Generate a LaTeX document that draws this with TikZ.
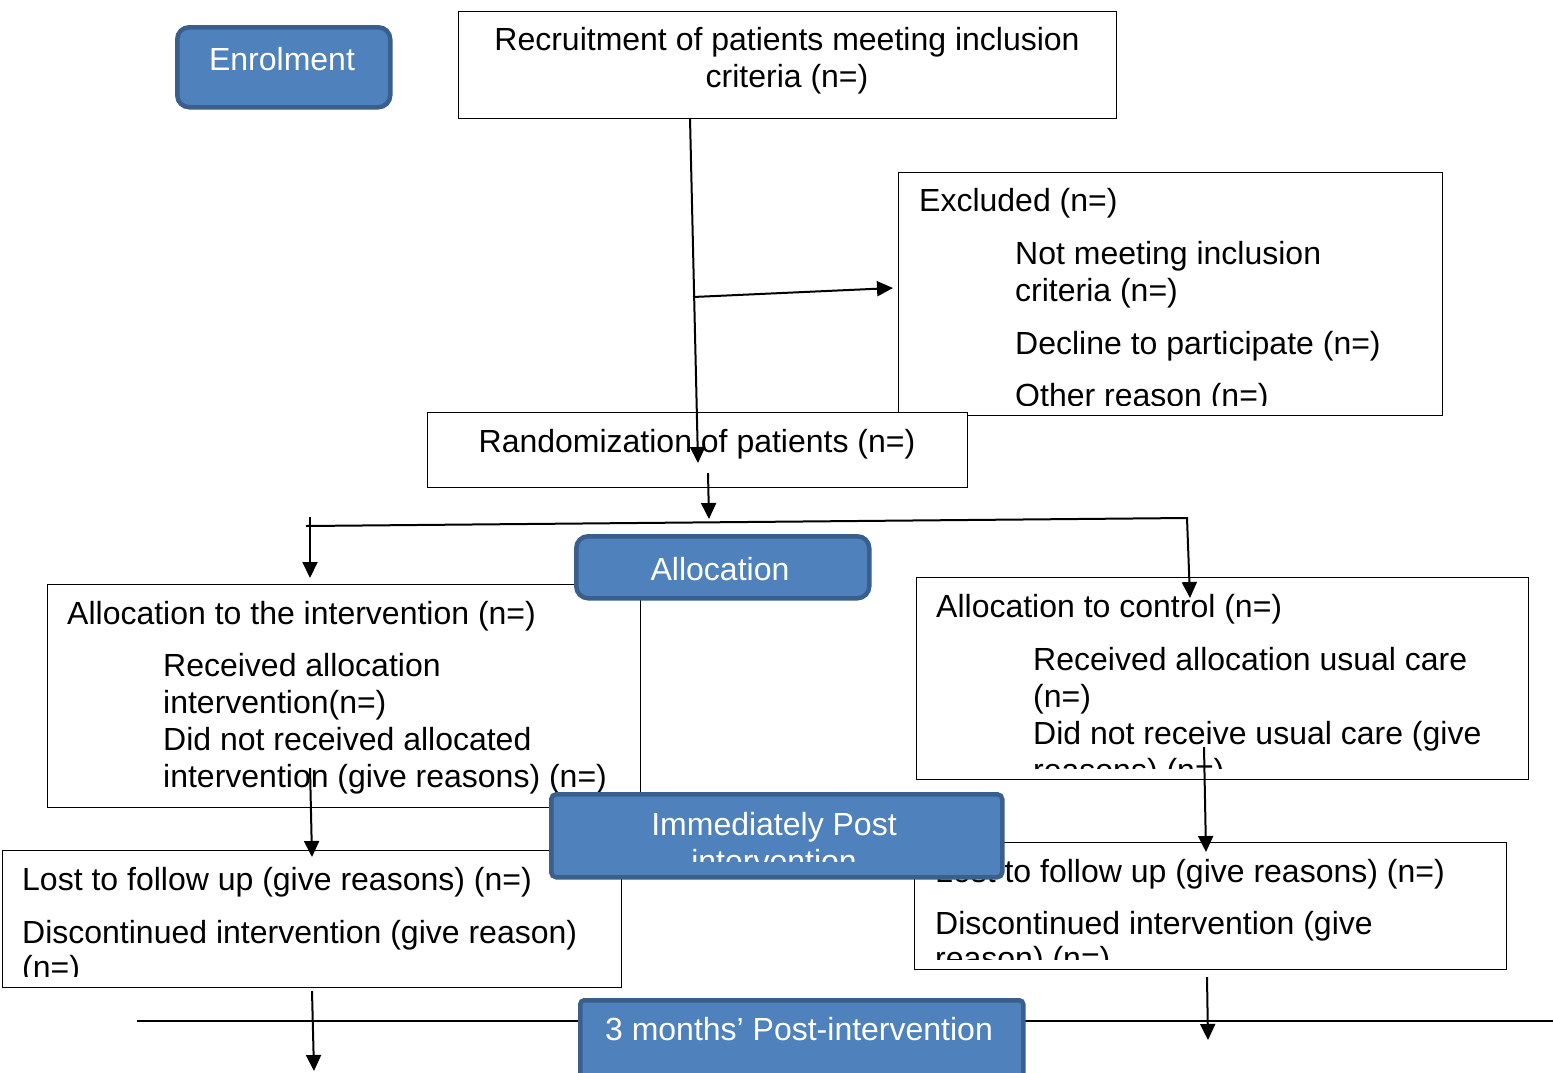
\documentclass[tikz,border=0pt]{standalone}
\usepackage{fontspec}
\setmainfont{Liberation Sans}
\usetikzlibrary{arrows.meta}
\definecolor{boxblue}{HTML}{4F81BD}
\definecolor{boxedge}{HTML}{3A5F8C}
\begin{document}
\begin{tikzpicture}[x=1pt,y=-1pt,
  txt/.style={font=\fontsize{32}{37}\selectfont, inner sep=0pt, anchor=base west},
  ctxt/.style={txt, anchor=base},
  wtxt/.style={ctxt, text=white},
  plainbox/.style={draw=black, line width=1.3pt, fill=white, inner sep=0pt, anchor=north west},
  bluebox/.style={draw=boxedge, fill=boxblue, line width=4.5pt, inner sep=0pt, anchor=north west},
  conn/.style={draw=black, line width=2pt, -{Triangle[length=16pt,width=15pt]}},
  bare/.style={draw=black, line width=2pt},
]
\fill[white] (0,0) rectangle (1553,1072);
\useasboundingbox (0,0) rectangle (1553,1072);

% Recruitment
\node[plainbox, minimum width=658pt, minimum height=107pt] (rec) at (458,11) {};
\node[ctxt] (recT1) at (787,50) {Recruitment of patients meeting inclusion};
\node[ctxt] (recT2) at (787,87) {criteria (n=)};

% Excluded
\node[plainbox, minimum width=544pt, minimum height=243pt] (exc) at (898,172) {};
\begin{scope}
  \clip (898,172) rectangle (1442,405);
  \node[txt] (excT1) at (919,211) {Excluded (n=)};
  \node[txt] (excT2) at (1015,264) {Not meeting inclusion};
  \node[txt] (excT3) at (1015,301) {criteria (n=)};
  \node[txt] (excT4) at (1015,354) {Decline to participate (n=)};
  \node[txt] (excT5) at (1015,406) {Other reason (n=)};
\end{scope}

% Randomization
\node[plainbox, minimum width=540pt, minimum height=75pt] (rand) at (427,412) {};
\node[ctxt] (randT) at (697,452) {Randomization of patients (n=)};

% Intervention allocation
\node[plainbox, minimum width=593pt, minimum height=223pt] (intv) at (47,584) {};
\node[txt] (intvT1) at (67,624) {Allocation to the intervention (n=)};
\node[txt] (intvT2) at (163,676) {Received allocation};
\node[txt] (intvT3) at (163,713) {intervention(n=)};
\node[txt] (intvT4) at (163,750) {Did not received allocated};
\node[txt] (intvT5) at (163,787) {intervention (give reasons) (n=)};

% Control allocation
\node[plainbox, minimum width=612pt, minimum height=202pt] (ctrl) at (916,577) {};
\begin{scope}
  \clip (916,577) rectangle (1528,768);
  \node[txt] (ctrlT1) at (936,617) {Allocation to control (n=)};
  \node[txt] (ctrlT2) at (1033,670) {Received allocation usual care};
  \node[txt] (ctrlT3) at (1033,707) {(n=)};
  \node[txt] (ctrlT4) at (1033,744) {Did not receive usual care (give};
  \node[txt] (ctrlT5) at (1033,781) {reasons) (n=)};
\end{scope}

% Allocation label
\node[bluebox, rounded corners=12pt, minimum width=293pt, minimum height=62pt] (alloc) at (574,534) {};
\node[wtxt] (allocT) at (720,580) {Allocation};

% Lost to follow up boxes
\node[plainbox, minimum width=619pt, minimum height=137pt] (lostL) at (2,850) {};
\begin{scope}
  \clip (2,850) rectangle (621,976);
  \node[txt] (lostLT1) at (22,890) {Lost to follow up (give reasons) (n=)};
  \node[txt] (lostLT2) at (22,943) {Discontinued intervention (give reason)};
  \node[txt] (lostLT3) at (22,978) {(n=)};
\end{scope}
\node[plainbox, minimum width=592pt, minimum height=127pt] (lostR) at (914,842) {};
\begin{scope}
  \clip (914,842) rectangle (1506,959);
  \node[txt] (lostRT1) at (935,882) {Lost to follow up (give reasons) (n=)};
  \node[txt] (lostRT2) at (935,934) {Discontinued intervention (give};
  \node[txt] (lostRT3) at (935,969) {reason) (n=)};
\end{scope}

% Immediately post label
\node[bluebox, rounded corners=5pt, minimum width=451pt, minimum height=83pt] (imm) at (549,792) {};
\begin{scope}
  \clip (549,792) rectangle (1000,861);
  \node[wtxt] (immT1) at (774,835) {Immediately Post};
  \node[wtxt] (immT2) at (774,872) {intervention};
\end{scope}

% 3 months line and label
\coordinate (hl) at (137,1021);
\coordinate (hr) at (1553,1021);
\draw[bare] (hl) -- (hr);
\node[bluebox, rounded corners=4pt, minimum width=443pt, minimum height=90pt] (three) at (578,998) {};
\node[wtxt] (threeT) at (799,1040) {3 months’ Post-intervention};

% Enrolment label
\node[bluebox, rounded corners=12pt, minimum width=213pt, minimum height=80pt] (enrol) at (175,25) {};
\node[wtxt] (enrolT) at (282,70) {Enrolment};

% Connectors
\coordinate (c1s) at (690,118);
\coordinate (c1e) at (698,463);
\draw[conn] (c1s) -- (c1e);
\coordinate (c2s) at (693,297);
\coordinate (c2e) at (893,288);
\draw[conn] (c2s) -- (c2e);
\coordinate (c3s) at (708,473);
\coordinate (c3e) at (709,519);
\draw[conn] (c3s) -- (c3e);
\coordinate (c4s) at (310,517);
\coordinate (c4e) at (310,578);
\draw[conn] (c4s) -- (c4e);
\coordinate (c5s) at (306,526);
\coordinate (c5m) at (1187,518);
\coordinate (c5e) at (1190,598);
\draw[conn] (c5s) -- (c5m) -- (c5e);
\coordinate (c6s) at (310,768);
\coordinate (c6e) at (312,857);
\draw[conn] (c6s) -- (c6e);
\coordinate (c7s) at (1204,747);
\coordinate (c7e) at (1206,852);
\draw[conn] (c7s) -- (c7e);
\coordinate (c8s) at (312,991);
\coordinate (c8e) at (314,1071);
\draw[conn] (c8s) -- (c8e);
\coordinate (c9s) at (1207,977);
\coordinate (c9e) at (1208,1040);
\draw[conn] (c9s) -- (c9e);
\end{tikzpicture}
\end{document}
